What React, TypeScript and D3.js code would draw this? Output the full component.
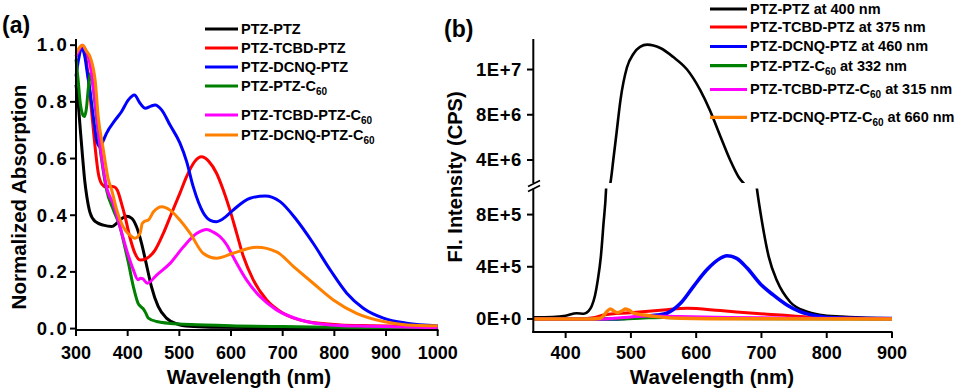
import React from 'react';
import * as d3 from 'd3';

type Pt = [number, number];

// legend labels: base text, subscript, and (panel b) excitation suffix
const seriesBase = ['PTZ-PTZ', 'PTZ-TCBD-PTZ', 'PTZ-DCNQ-PTZ', 'PTZ-PTZ-C', 'PTZ-TCBD-PTZ-C', 'PTZ-DCNQ-PTZ-C'];
const seriesSub = ['', '', '', '60', '60', '60'];
const excitation = [' at 400 nm', ' at 375 nm', ' at 460 nm', ' at 332 nm', ' at 315 nm', ' at 660 nm'];
const colors = ['#000000', '#ff0000', '#0000ff', '#008000', '#ff00ff', '#ff8000'];

// (a) normalized absorption, [wavelength nm, value]
const absPtzPtz: Pt[] = [[300, 0.86], [304, 0.8], [308, 0.71], [313, 0.6], [317, 0.52], [321, 0.465], [327, 0.41], [337, 0.378], [353, 0.365], [369, 0.36], [379, 0.372], [390, 0.39], [398, 0.396], [408, 0.389], [417, 0.36], [427, 0.3], [437, 0.22], [446, 0.148], [459, 0.078], [475, 0.037], [495, 0.017], [520, 0.008], [560, 0.005], [700, 0.003], [1000, 0.001]];
const absTcbd: Pt[] = [[300, 0.96], [305, 0.98], [312, 0.995], [318, 0.97], [324, 0.88], [330, 0.77], [337, 0.64], [343, 0.55], [350, 0.51], [358, 0.5], [366, 0.502], [374, 0.5], [380, 0.488], [388, 0.442], [395, 0.395], [404, 0.324], [414, 0.266], [424, 0.242], [437, 0.248], [453, 0.277], [469, 0.336], [485, 0.407], [501, 0.477], [514, 0.536], [530, 0.59], [543, 0.606], [557, 0.59], [572, 0.548], [585, 0.489], [598, 0.418], [611, 0.336], [624, 0.254], [643, 0.172], [669, 0.101], [701, 0.054], [746, 0.025], [811, 0.013], [870, 0.01], [1000, 0.006]];
const absDcnq: Pt[] = [[300, 0.89], [305, 0.95], [311, 0.99], [317, 0.96], [322, 0.9], [327, 0.84], [334, 0.74], [340, 0.665], [346, 0.642], [352, 0.66], [359, 0.689], [376, 0.736], [388, 0.765], [401, 0.806], [413, 0.824], [424, 0.795], [434, 0.777], [445, 0.785], [453, 0.789], [466, 0.771], [482, 0.718], [501, 0.655], [514, 0.59], [527, 0.5], [546, 0.41], [560, 0.382], [572, 0.377], [590, 0.395], [604, 0.418], [637, 0.46], [666, 0.468], [695, 0.448], [727, 0.383], [759, 0.301], [792, 0.207], [824, 0.125], [856, 0.072], [895, 0.037], [940, 0.019], [1000, 0.01]];
const absPtzC60: Pt[] = [[300, 0.95], [304, 0.88], [308, 0.8], [313, 0.755], [316, 0.748], [320, 0.775], [324, 0.85], [328, 0.9], [331, 0.88], [337, 0.79], [343, 0.69], [350, 0.59], [359, 0.49], [372, 0.42], [385, 0.36], [393, 0.3], [401, 0.236], [411, 0.148], [420, 0.09], [425, 0.078], [430, 0.07], [435, 0.055], [440, 0.037], [456, 0.025], [500, 0.016], [550, 0.013], [600, 0.01], [700, 0.007], [800, 0.005], [900, 0.003], [1000, 0.001]];
const absTcbdC60: Pt[] = [[300, 0.96], [305, 0.98], [312, 1.0], [318, 0.985], [324, 0.96], [330, 0.9], [337, 0.8], [343, 0.7], [350, 0.6], [359, 0.5], [372, 0.44], [385, 0.36], [398, 0.277], [411, 0.207], [420, 0.172], [425, 0.178], [429, 0.176], [438, 0.16], [456, 0.189], [482, 0.23], [508, 0.289], [534, 0.336], [553, 0.35], [566, 0.34], [579, 0.324], [592, 0.295], [604, 0.254], [630, 0.172], [656, 0.113], [688, 0.066], [733, 0.031], [792, 0.013], [870, 0.008], [1000, 0.003]];
const absDcnqC60: Pt[] = [[300, 0.97], [306, 0.99], [313, 1.0], [320, 0.98], [327, 0.96], [332, 0.93], [337, 0.877], [343, 0.747], [353, 0.63], [362, 0.53], [369, 0.489], [379, 0.418], [391, 0.36], [404, 0.33], [414, 0.319], [424, 0.336], [428, 0.37], [432, 0.378], [440, 0.383], [450, 0.412], [466, 0.43], [482, 0.418], [501, 0.383], [521, 0.336], [546, 0.266], [572, 0.248], [604, 0.266], [650, 0.287], [688, 0.271], [721, 0.219], [759, 0.16], [798, 0.101], [843, 0.054], [895, 0.025], [940, 0.013], [1000, 0.01]];

// (b) fluorescence intensity, [wavelength nm, CPS]
const flPtzPtz: Pt[] = [[350, 1.2e4], [380, 1.5e4], [400, 2.5e4], [417, 4.4e4], [428, 4e4], [435, 6e4], [440, 1e5], [445, 1.8e5], [449, 2.9e5], [454, 4.8e5], [458, 7.3e5], [462, 1e6], [465, 1.45e6], [468.5, 1.95e6], [473, 4e6], [478, 6.4e6], [484, 9.3e6], [494, 12.2e6], [504, 13.4e6], [514, 14.0e6], [525, 14.2e6], [545, 13.9e6], [565, 13.1e6], [586, 12.0e6], [606, 10.2e6], [621, 8.4e6], [637, 6.1e6], [652, 4.0e6], [665, 2.5e6], [672.5, 1.95e6], [683, 1.45e6], [693, 1e6], [701, 7.4e5], [711, 4.8e5], [724, 2.9e5], [744, 1.3e5], [770, 5.6e4], [800, 2.5e4], [821, 1.8e4], [860, 8e3], [900, 5e3]];
const flTcbd: Pt[] = [[350, 0], [420, 2e3], [445, 1.2e4], [458, 3e4], [499, 4.8e4], [550, 6.9e4], [586, 8.2e4], [637, 6.4e4], [688, 4.4e4], [729, 3e4], [770, 1.5e4], [820, 8e3], [900, 3e3]];
const flDcnq: Pt[] = [[350, 0], [480, 0], [515, 1.8e4], [540, 3e4], [555, 4.4e4], [576, 1.2e5], [596, 2.5e5], [616, 3.75e5], [637, 4.65e5], [647, 4.85e5], [662, 4.65e5], [678, 3.9e5], [698, 2.7e5], [718, 1.84e5], [739, 1.07e5], [759, 5.6e4], [785, 2.3e4], [821, 7e3], [900, 3e3]];
const flPtzC60: Pt[] = [[350, 0], [480, 0], [520, 8e3], [550, 1.2e4], [580, 8e3], [620, 3e3], [900, 0]];
const flTcbdC60: Pt[] = [[350, 0], [450, 0], [474, 5e3], [500, 1.5e4], [525, 2.3e4], [575, 1.8e4], [650, 1.2e4], [750, 6e3], [850, 3e3], [900, 1e3]];
const flDcnqC60: Pt[] = [[350, 0], [440, 0], [453, 5e3], [458, 2.5e4], [463, 5.5e4], [468.5, 7.7e4], [474, 6e4], [479, 4.8e4], [486, 6e4], [492, 7.6e4], [498, 6.5e4], [504, 4.4e4], [520, 3e4], [540, 1.8e4], [576, 5e3], [620, 2e3], [900, 0]];

const absSeries = [absPtzPtz, absTcbd, absDcnq, absPtzC60, absTcbdC60, absDcnqC60];
const flSeries = [flPtzPtz, flTcbd, flDcnq, flPtzC60, flTcbdC60, flDcnqC60];

const absXTicks = [300, 400, 500, 600, 700, 800, 900, 1000];
const absYTicks = [0, 0.2, 0.4, 0.6, 0.8, 1.0];
const flXTicks = [400, 500, 600, 700, 800, 900];
const flLowTicks = [0, 4e5, 8e5];
const flHighTicks = [4e6, 8e6, 1.2e7];

const font = '"Liberation Sans", Arial, sans-serif';

// Origin style "1E+7" labels (mantissa with no decimals)
function sci(v: number) {
  if (v === 0) return '0E+0';
  const e = Math.floor(Math.log10(v));
  return Math.round(v / Math.pow(10, e)) + 'E+' + e;
}

export default function App() {
  // panel a
  const xa = d3.scaleLinear().domain([300, 1000]).range([76, 437.7]);
  const ya = d3.scaleLinear().domain([-0.005, 1.02]).range([330, 39.5]);
  const lineA = d3.line<Pt>().x(d => xa(d[0])).y(d => ya(d[1])).curve(d3.curveMonotoneX);

  // panel b, broken y axis
  const xb = d3.scaleLinear().domain([350, 900]).range([533, 892]);
  const ybLow = d3.scaleLinear().domain([-1e5, 1e6]).range([332, 188.5]);
  const ybHigh = d3.scaleLinear().domain([2e6, 1.47e7]).range([182.6, 39]);
  const lineLow = d3.line<Pt>().x(d => xb(d[0])).y(d => ybLow(d[1])).curve(d3.curveMonotoneX);
  const lineHigh = d3.line<Pt>().x(d => xb(d[0])).y(d => ybHigh(d[1])).curve(d3.curveMonotoneX);

  const bold = { fontFamily: font, fontWeight: 700 } as const;
  const legA = [29, 48, 67, 86, 115, 135];
  const legB = [9, 27, 46.5, 65.7, 89.5, 117.3];
  const flWidth = [2.6, 3, 3.6, 3, 3, 3.4];

  return (
    <svg width={969} height={392} style={{ position: 'absolute', left: 0, top: 0, background: '#fff' }}>
      <defs>
        <clipPath id="clipHigh"><rect x={533} y={0} width={360} height={183} /></clipPath>
        <clipPath id="clipLow"><rect x={533} y={188.5} width={360} height={143.5} /></clipPath>
      </defs>

      {/* ---------- panel (a) ---------- */}
      <text x={2} y={33} fontSize={23} {...bold}>(a)</text>
      {absSeries.map((s, i) => (
        <path key={i} d={lineA(s) || ''} fill="none" stroke={colors[i]} strokeWidth={3} strokeLinejoin="round" />
      ))}
      <line x1={76} x2={76} y1={39} y2={331} stroke="#000" strokeWidth={2} />
      <line x1={75} x2={438.5} y1={330} y2={330} stroke="#000" strokeWidth={2} />
      {absYTicks.map(t => (
        <g key={t}>
          <line x1={70} x2={76} y1={ya(t)} y2={ya(t)} stroke="#000" strokeWidth={2} />
          <text x={69} y={ya(t) + 6.3} textAnchor="end" fontSize={18.5} letterSpacing={2.2} {...bold}>{d3.format('.1f')(t)}</text>
        </g>
      ))}
      {absXTicks.map(t => (
        <g key={t}>
          <line x1={xa(t)} x2={xa(t)} y1={330} y2={336} stroke="#000" strokeWidth={2} />
          <text x={xa(t)} y={358.5} textAnchor="middle" fontSize={18} {...bold}>{t}</text>
        </g>
      ))}
      <text x={249} y={384} textAnchor="middle" fontSize={20.5} {...bold}>Wavelength (nm)</text>
      <text transform="translate(25.5,197) rotate(-90)" textAnchor="middle" fontSize={20.5} {...bold}>Normalized Absorption</text>
      {seriesBase.map((b, i) => (
        <g key={b}>
          <line x1={205} x2={238} y1={legA[i]} y2={legA[i]} stroke={colors[i]} strokeWidth={3.2} />
          <text x={241} y={legA[i] + 5} fontSize={14.5} {...bold}>
            {b}
            {seriesSub[i] && <tspan fontSize={10} dy={4}>{seriesSub[i]}</tspan>}
          </text>
        </g>
      ))}

      {/* ---------- panel (b) ---------- */}
      <text x={444} y={36.5} fontSize={23} {...bold}>(b)</text>
      <g clipPath="url(#clipHigh)">
        {flSeries.map((s, i) => (
          <path key={i} d={lineHigh(s) || ''} fill="none" stroke={colors[i]} strokeWidth={flWidth[i]} strokeLinejoin="round" />
        ))}
      </g>
      <g clipPath="url(#clipLow)">
        {flSeries.map((s, i) => (
          <path key={i} d={lineLow(s) || ''} fill="none" stroke={colors[i]} strokeWidth={flWidth[i]} strokeLinejoin="round" />
        ))}
      </g>
      <line x1={533.3} x2={533.3} y1={39} y2={183} stroke="#000" strokeWidth={2} />
      <line x1={533.3} x2={533.3} y1={188.5} y2={333} stroke="#000" strokeWidth={2} />
      <line x1={528} x2={540} y1={186.5} y2={180.5} stroke="#000" strokeWidth={1.8} />
      <line x1={528} x2={540} y1={191.5} y2={185.5} stroke="#000" strokeWidth={1.8} />
      <line x1={532.3} x2={892.5} y1={332} y2={332} stroke="#000" strokeWidth={2} />
      {flHighTicks.map(t => (
        <g key={t}>
          <line x1={527} x2={533} y1={ybHigh(t)} y2={ybHigh(t)} stroke="#000" strokeWidth={2} />
          <text x={522} y={ybHigh(t) + 6.5} textAnchor="end" fontSize={18.5} letterSpacing={0.6} {...bold}>{sci(t)}</text>
        </g>
      ))}
      {flLowTicks.map(t => (
        <g key={t}>
          <line x1={527} x2={533} y1={ybLow(t)} y2={ybLow(t)} stroke="#000" strokeWidth={2} />
          <text x={522} y={ybLow(t) + 6.5} textAnchor="end" fontSize={18.5} letterSpacing={0.6} {...bold}>{sci(t)}</text>
        </g>
      ))}
      {flXTicks.map(t => (
        <g key={t}>
          <line x1={xb(t)} x2={xb(t)} y1={332} y2={338} stroke="#000" strokeWidth={2} />
          <text x={xb(t)} y={358.5} textAnchor="middle" fontSize={18} {...bold}>{t}</text>
        </g>
      ))}
      <text x={712} y={384} textAnchor="middle" fontSize={20.5} {...bold}>Wavelength (nm)</text>
      <text transform="translate(462,177) rotate(-90)" textAnchor="middle" fontSize={20} {...bold}>Fl. Intensity (CPS)</text>
      {seriesBase.map((b, i) => (
        <g key={b}>
          <line x1={710} x2={747} y1={legB[i]} y2={legB[i]} stroke={colors[i]} strokeWidth={3.2} />
          <text x={750} y={legB[i] + 4.8} fontSize={14.5} {...bold}>
            {b}
            {seriesSub[i] && <tspan fontSize={10} dy={4}>{seriesSub[i]}</tspan>}
            {seriesSub[i] ? <tspan dy={-4}>{excitation[i]}</tspan> : excitation[i]}
          </text>
        </g>
      ))}
    </svg>
  );
}
